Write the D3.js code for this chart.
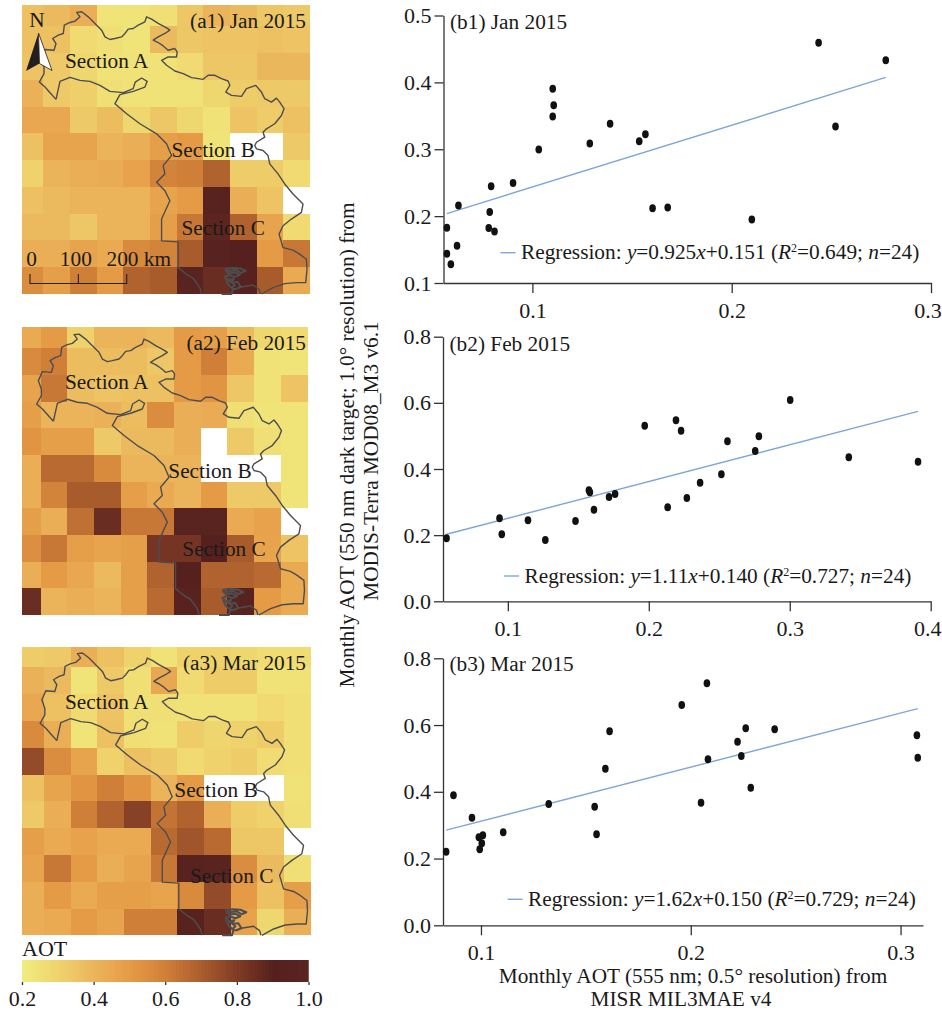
<!DOCTYPE html>
<html>
<head>
<meta charset="utf-8">
<script src="https://cdn.jsdelivr.net/npm/d3@7"></script>
<style>
  body { margin: 0; background: #fff; }
  svg { display: block; }
  text { font-family: 'Liberation Serif', serif; fill: #1a1a1a; }
  .ejes path, .ejes line { stroke: #333; stroke-width: 1.3; }
  .ejes text { font-family: 'Liberation Serif', serif; fill: #1a1a1a; }
</style>
</head>
<body>
<div id="graf"></div>
<script>
// AOT grids read from the maps, null = no data (white)
const gridJan = [
  [.36,.38,.42,.23,.23,.25,.34,.40,.38,.34,.33],
  [.36,.36,.27,.25,.23,.38,.34,.35,.35,.36,.35],
  [.35,.33,.28,.24,.24,.24,.27,.34,.34,.39,.39],
  [.41,.33,.31,.25,.24,.24,.24,.28,.32,.33,.33],
  [.45,.45,.33,.37,.28,.34,.28,.24,.35,.32,.36],
  [.36,.46,.46,.40,.42,.48,.50,.23,null,null,.33],
  [.30,.40,.42,.43,.47,.58,.60,.68,.32,.32,.27],
  [.36,.38,.40,.40,.40,.46,.50,.95,.42,.35,null],
  [.38,.38,.34,.40,.40,.48,.62,.88,.68,.46,.27],
  [.42,.42,.46,.44,.56,.58,.70,.93,.90,.50,.62],
  [.55,.48,.60,.50,.68,.70,.97,.85,.92,.70,.44],
]
const gridFeb = [
  [.44,.50,.30,.40,.40,.38,.50,.48,.38,.28,.27],
  [.56,.60,.37,.37,.37,.34,.50,.60,.44,.24,.23],
  [.46,.62,.37,.35,.36,.36,.50,.52,.34,.24,.35],
  [.48,.40,.40,.41,.37,.55,.42,.43,.25,.23,.23],
  [.52,.48,.48,.33,.38,.38,.42,null,.33,.25,.23],
  [.42,.66,.66,.56,.40,.40,.40,null,null,null,.23],
  [.42,.58,.70,.70,.48,.44,.40,.50,.33,.33,.23],
  [.48,.42,.64,.85,.62,.62,.97,.97,.44,.47,null],
  [.54,.62,.48,.46,.48,.82,.82,.90,.70,.46,.35],
  [.42,.50,.45,.38,.48,.68,.90,.68,.68,.66,.44],
  [.85,.40,.42,.40,.48,.66,.95,.70,.95,.50,.44],
]
const gridMar = [
  [.32,.33,.42,.36,.30,.24,.30,.30,.28,.26,.26],
  [.41,.38,.23,.33,.25,.45,.27,.32,.32,.24,.24],
  [.45,.36,.27,.35,.25,.25,.24,.24,.24,.27,.25],
  [.56,.42,.23,.36,.25,.24,.32,.29,.30,.32,.25],
  [.75,.55,.46,.30,.36,.33,.27,.30,.32,.26,.25],
  [.36,.46,.52,.60,.52,.40,.50,null,null,null,.24],
  [.33,.42,.60,.68,.78,.63,.68,.42,.32,.30,.25],
  [.48,.44,.47,.44,.44,.66,.72,.66,.34,.34,null],
  [.46,.62,.50,.42,.46,.62,.95,.97,.55,.38,.25],
  [.42,.50,.44,.48,.48,.46,.56,.75,.50,.36,.48],
  [.42,.44,.50,.46,.60,.60,.95,.85,.47,.28,.42],
]

const aotStops = [.2, .3, .4, .5, .6, .7, .8, .9, 1]
const aotColors = ['#f1ec7e', '#efd26c', '#ebb45a', '#e59a45', '#cf7f38', '#a85c2c', '#7e3a25', '#55201e', '#5a2520']
const aotTicks = [.2, .4, .6, .8, 1]

// scatter values
const xJan = [.0571,.0571,.0591,.0622,.0629,.0781,.0786,.0793,.0810,.0903,.1032,.1102,.1107,.1102,.1288,.1390,.1536,.1567,.1603,.1679,.2101,.2436,.2521,.2773]
const yJan = [.1825,.1437,.1279,.1557,.2160,.1821,.2060,.2448,.1771,.2497,.2995,.3488,.3657,.3906,.3085,.3383,.3119,.3224,.2119,.2130,.1951,.4592,.3339,.4330]
const xFeb = [.0565,.0941,.0957,.1143,.1266,.1480,.1575,.1582,.1611,.1718,.1761,.1971,.2134,.2193,.2229,.2270,.2364,.2515,.2558,.2755,.2781,.3003,.3419,.3910]
const yFeb = [.1904,.2509,.2025,.2448,.1853,.2428,.3355,.3295,.2770,.3153,.3244,.5310,.2841,.5472,.5158,.3123,.3587,.3839,.4837,.4544,.4988,.6086,.4354,.4221]
const xMar = [.0834,.0869,.0957,.0990,.1009,.1004,.0994,.1106,.1323,.1542,.1551,.1593,.1613,.1957,.2049,.2077,.2082,.2223,.2241,.2262,.2286,.2400,.3078,.3082]
const yMar = [.2206,.3894,.3225,.2636,.2696,.2456,.2276,.2786,.3634,.3553,.2726,.4692,.5812,.6600,.3673,.7250,.4973,.5502,.5073,.5902,.4124,.5872,.5693,.5022]

// outline of the study area, in map units (pixels of panel a1)
const outlineOuter = [[56,99],[50,92.3],[45,86.7],[39.3,81.7],[44,73.3],[44,67],[41,58.3],[45,49.3],[54,50],[56,43.3],[52.7,38.3],[58.3,35],[63.3,33.3],[64.3,25],[70,22.3],[75,21],[80,16.7],[76.7,12.3],[81.7,11.7],[88.3,16.7],[95,23.3],[101.7,30],[105,36.7],[110,39.3],[115,38.3],[121.7,36.7],[125,33.3],[128.3,29],[133.3,28.3],[138.3,25],[145,21.7],[146.7,16.7],[151.7,19],[158.3,23.3],[166.7,27.7],[170,30],[165,33.3],[158.3,36.7],[153.3,40],[158.3,42.3],[163.3,45.7],[168.3,50],[175,48.3],[177.3,51.7],[176.7,56.7],[168.3,56.7],[161.7,60],[166.7,65],[175,70.7],[183.3,73.3],[191.7,77.3],[203.3,79],[208.3,75],[215,75],[221.7,78.3],[228.3,80.7],[230,85],[226,91.7],[231.7,95],[241.7,96],[246.7,88.3],[256,85],[261.7,91.7],[265,98.3],[271.7,101.7],[276.7,97.7],[280,101.7],[284.3,108.3],[281.7,115],[275,123.3],[266.7,128.3],[263.3,131.7],[265,136.7],[256.7,141.7],[255,145],[256.7,148.3],[263.3,150],[268.3,155],[270,163.3],[278.3,173.3],[285,183.3],[293.3,193.3],[303.3,203.3],[301.7,211.7],[291.7,218.3],[283.3,225],[279.3,233.3],[283.3,246.7],[293.3,249.3],[300,253.3],[306.7,258.3],[307.3,268.3],[306,281.7],[296.7,281.7],[285,282.7],[273.3,286.7],[261.7,293.3]]
const outlineInner = [[56,99],[60,81],[70,77],[80,80],[90,81],[100,85],[110,91],[123.3,92.3],[133.3,88.3],[135.3,81.7],[141.7,77.7],[147.3,81],[145,86.7],[133.3,91],[120,94.3],[115,103.3],[126.7,113.3],[140,123.3],[156.7,133.3],[166.7,143.3],[171.7,155],[163.3,165],[165,173.3],[156.7,181.7],[165,190],[170,200],[161.7,218.3],[161.7,240],[178.3,241],[178.3,266.7],[186.7,273.3],[193.3,277.3],[200,286.7],[201.7,294]]
const outlineLake = [[225,268],[232,267],[240,267.5],[246,270],[241,272],[236,269],[230,270],[226,269.5],[229,272.5],[235,271.5],[240,274],[235,276],[229,274],[225,276],[229,279],[234,278],[231,281],[226,278],[228,283],[232,287],[235,284],[232,281.5],[238,281],[241,286],[236,288],[233,288],[231.7,294],[221.7,294]]
const outlineSouth = [[241,286],[253.3,284],[259.3,288.3],[260.7,294]]

const anchoTotal = 942
const altoTotal = 1011

const svg = d3.select('#graf')
  .append('svg')
  .attr('width', anchoTotal)
  .attr('height', altoTotal)
  .attr('class', 'graf')

const color = d3.scaleLinear().domain(aotStops).range(aotColors).clamp(true)

const fontMapa = 21.3
const fontEje = 22

// ---- maps ----
const mapas = [
  {
    grid: gridJan, titulo: '(a1) Jan 2015', x0: 22, x1: 310, y0: 5, y1: 294, fx: .8, fy: .79, tituloY: 27.5,
    secciones: [['Section A', 65, 68], ['Section B', 171.5, 156.5], ['Section C', 181.5, 235]],
  },
  {
    grid: gridFeb, titulo: '(a2) Feb 2015', x0: 22, x1: 307.5, y0: 327.3, y1: 615, fx: .7, fy: .79, tituloY: 350,
    secciones: [['Section A', 65, 389.3], ['Section B', 168.3, 478.3], ['Section C', 182.3, 556]],
  },
  {
    grid: gridMar, titulo: '(a3) Mar 2015', x0: 21.5, x1: 310.5, y0: 647.3, y1: 935.3, fx: .85, fy: .75, tituloY: 670,
    secciones: [['Section A', 65, 709.3], ['Section B', 174.3, 796.7], ['Section C', 190, 882.7]],
  },
]

// map units of panel a1 to grid units
const aGridX = d3.scaleLinear().domain([43.3, 70]).range([1, 2])
const aGridY = d3.scaleLinear().domain([26, 52.7]).range([1, 2])

mapas.forEach(m => {
  const x = d3.scaleLinear().domain([1 - m.fx, 11]).range([m.x0, m.x1]).clamp(true)
  const y = d3.scaleLinear().domain([1 - m.fy, 11]).range([m.y0, m.y1]).clamp(true)
  const g = svg.append('g')

  const celdas = m.grid.flatMap((fila, r) => fila.map((v, c) => ({ r, c, v }))).filter(d => d.v !== null)
  g.selectAll('rect')
    .data(celdas)
    .enter()
    .append('rect')
      .attr('x', d => x(d.c))
      .attr('y', d => y(d.r))
      .attr('width', d => x(d.c + 1) - x(d.c))
      .attr('height', d => y(d.r + 1) - y(d.r))
      .attr('fill', d => color(d.v))
      .attr('shape-rendering', 'crispEdges')

  const linea = d3.line()
    .x(d => x(aGridX(d[0])))
    .y(d => y(aGridY(d[1])))

  ;[outlineOuter, outlineInner, outlineSouth, outlineLake].forEach((o, i) => {
    g.append('path')
      .attr('d', linea(o))
      .attr('fill', 'none')
      .attr('stroke', '#4d4d4f')
      .attr('stroke-width', i == 3 ? 2 : 1.4)
      .attr('stroke-linejoin', 'round')
  })

  g.selectAll('text.seccion')
    .data(m.secciones)
    .enter()
    .append('text')
      .attr('class', 'seccion')
      .attr('x', d => d[1])
      .attr('y', d => d[2])
      .attr('font-size', fontMapa)
      .text(d => d[0])

  g.append('text')
    .attr('x', 306)
    .attr('y', m.tituloY)
    .attr('text-anchor', 'end')
    .attr('font-size', fontMapa)
    .text(m.titulo)
})

// north arrow and scale bar only on a1
const norte = svg.append('g')
norte.append('text').attr('x', 37).attr('y', 27).attr('text-anchor', 'middle').attr('font-size', fontMapa).text('N')
norte.append('path').attr('d', 'M38.5,33 L26,71 L39.5,63.5 Z').attr('fill', '#231f20')
norte.append('path').attr('d', 'M38.5,33 L52,70.5 L39.5,63.5 Z').attr('fill', '#fff').attr('stroke', '#231f20').attr('stroke-width', 0.8)

const km = d3.scaleLinear().domain([0, 200]).range([30, 126.7])
const escala = svg.append('g')
escala.append('path')
  .attr('d', `M${km(0)},274 V283.5 H${km(200)} V274 M${km(100)},274 V283.5`)
  .attr('fill', 'none')
  .attr('stroke', '#222')
  .attr('stroke-width', 1.1)
escala.append('text').attr('x', km(0) + 1.5).attr('y', 265.5).attr('text-anchor', 'middle').attr('font-size', fontMapa).text('0')
escala.append('text').attr('x', km(100) - 2.5).attr('y', 265.5).attr('text-anchor', 'middle').attr('font-size', fontMapa).text('100')
escala.append('text').attr('x', 106.5).attr('y', 265.5).attr('font-size', fontMapa).text('200 km')

// ---- colour bar ----
const barra = d3.scaleLinear().domain([.2, 1]).range([22, 308.5])
const pasos = d3.range(.2, 1, .01)
svg.append('g')
  .selectAll('rect')
  .data(pasos)
  .enter()
  .append('rect')
    .attr('x', d => barra(d))
    .attr('y', 960)
    .attr('width', d => Math.min(barra(d + .02), barra(1)) - barra(d))
    .attr('height', 22)
    .attr('fill', d => color(d))

svg.append('g')
  .attr('class', 'ejes')
  .attr('transform', 'translate(0, 982)')
  .call(d3.axisBottom(barra).tickValues(aotTicks).tickSize(3).tickSizeOuter(0).tickFormat(d3.format('.1f')))
  .call(a => a.select('.domain').remove())
  .call(a => a.selectAll('text').attr('font-size', fontEje).attr('y', 8).attr('dy', '0.71em'))

svg.append('text').attr('x', 22).attr('y', 956).attr('font-size', fontEje).text('AOT')

// ---- scatter plots ----
const graficos = [
  {
    xs: xJan, ys: yJan, m: .925, b: .151, titulo: '(b1) Jan 2015', ec: ['0.925', '+0.151', '0.649'],
    xDom: [.0554, .3], xTicks: [.1, .2, .3], yDom: [.1, .5], yTicks: [.1, .2, .3, .4, .5],
    left: 443.5, right: 931, top: 15.5, bottom: 283, tituloY: 29, leyX: 500.5, leyY: 252.7,
  },
  {
    xs: xFeb, ys: yFeb, m: 1.11, b: .14, titulo: '(b2) Feb 2015', ec: ['1.11', '+0.140', '0.727'],
    xDom: [.054, .4], xTicks: [.1, .2, .3, .4], yDom: [0, .8], yTicks: [0, .2, .4, .6, .8],
    left: 443, right: 930.7, top: 336.7, bottom: 601.3, tituloY: 351, leyX: 504, leyY: 576,
  },
  {
    xs: xMar, ys: yMar, m: 1.62, b: .15, titulo: '(b3) Mar 2015', ec: ['1.62', '+0.150', '0.729'],
    xDom: [.0819, .3107], xTicks: [.1, .2, .3], yDom: [0, .8], yTicks: [0, .2, .4, .6, .8],
    left: 443, right: 923, top: 658.3, bottom: 925.3, tituloY: 671, leyX: 507.6, leyY: 899.3,
  },
]

graficos.forEach(c => {
  const x = d3.scaleLinear().domain(c.xDom).range([c.left, c.right])
  const y = d3.scaleLinear().domain(c.yDom).range([c.bottom, c.top])
  const g = svg.append('g')

  g.append('g')
    .attr('class', 'ejes')
    .attr('transform', `translate(0, ${c.bottom})`)
    .call(d3.axisBottom(x).tickValues(c.xTicks).tickSize(10).tickSizeOuter(0).tickFormat(d3.format('.1f')))
    .call(a => a.selectAll('text')
      .attr('font-size', fontEje)
      .attr('y', 19)
      .attr('dy', '0.71em')
      // the last label sits against the page edge
      .attr('x', d => x(d) > 925 ? -3.5 : 0))

  g.append('g')
    .attr('class', 'ejes')
    .attr('transform', `translate(${c.left}, 0)`)
    .call(d3.axisLeft(y).tickValues(c.yTicks).tickSize(9).tickSizeOuter(0).tickFormat(d3.format('.1f')))
    .call(a => a.selectAll('text').attr('font-size', fontEje).attr('x', -12))

  const [xMin, xMax] = d3.extent(c.xs)
  g.append('line')
    .attr('x1', x(xMin))
    .attr('y1', y(c.m * xMin + c.b))
    .attr('x2', x(xMax))
    .attr('y2', y(c.m * xMax + c.b))
    .attr('stroke', '#7ea6d9')
    .attr('stroke-width', 1.4)

  g.selectAll('ellipse')
    .data(c.xs)
    .enter()
    .append('ellipse')
      .attr('cx', d => x(d))
      .attr('cy', (d, i) => y(c.ys[i]))
      .attr('rx', 3.3)
      .attr('ry', 4)
      .attr('fill', '#111')

  g.append('text')
    .attr('x', c.left + 6.5)
    .attr('y', c.tituloY)
    .attr('font-size', fontMapa)
    .text(c.titulo)

  g.append('line')
    .attr('x1', c.leyX)
    .attr('x2', c.leyX + 15)
    .attr('y1', c.leyY)
    .attr('y2', c.leyY)
    .attr('stroke', '#7ea6d9')
    .attr('stroke-width', 1.4)

  const ley = g.append('text')
    .attr('x', c.leyX + 20.5)
    .attr('y', c.leyY + 6.5)
    .attr('font-size', fontMapa)
  ley.append('tspan').text('Regression: ')
  ley.append('tspan').attr('font-style', 'italic').text('y')
  ley.append('tspan').text('=' + c.ec[0])
  ley.append('tspan').attr('font-style', 'italic').text('x')
  ley.append('tspan').text(c.ec[1] + ' (')
  ley.append('tspan').attr('font-style', 'italic').text('R')
  ley.append('tspan').attr('font-size', 12).attr('dy', -7).text('2')
  ley.append('tspan').attr('dy', 7).text('=' + c.ec[2] + '; ')
  ley.append('tspan').attr('font-style', 'italic').text('n')
  ley.append('tspan').text('=24)')
})

// axis titles
const tituloY = svg.append('g').attr('transform', 'rotate(-90)')
tituloY.append('text').attr('x', -445).attr('y', 354).attr('text-anchor', 'middle').attr('font-size', fontMapa)
  .text('Monthly AOT (550 nm dark target; 1.0° resolution) from')
tituloY.append('text').attr('x', -461).attr('y', 378).attr('text-anchor', 'middle').attr('font-size', fontMapa)
  .text('MODIS-Terra MOD08_M3 v6.1')

svg.append('text').attr('x', 693).attr('y', 983).attr('text-anchor', 'middle').attr('font-size', fontMapa)
  .text('Monthly AOT (555 nm; 0.5° resolution) from')
svg.append('text').attr('x', 681).attr('y', 1006).attr('text-anchor', 'middle').attr('font-size', fontMapa)
  .text('MISR MIL3MAE v4')
</script>
</body>
</html>
